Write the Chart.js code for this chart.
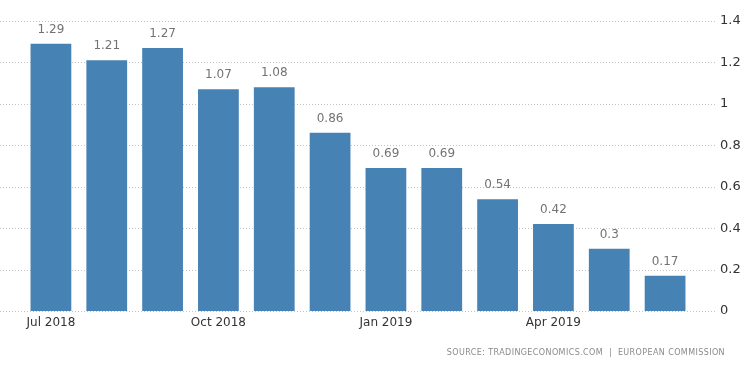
<!DOCTYPE html>
<html>
<head>
<meta charset="utf-8">
<script src="https://cdn.jsdelivr.net/npm/chart.js@4/dist/chart.umd.min.js"></script>
<style>
  html, body { margin: 0; padding: 0; background: #fff; }
  #wrap { width: 750px; height: 373px; }
</style>
</head>
<body>
<div id="wrap"><canvas id="c" width="750" height="373"></canvas></div>
<script>
const categories = ['Jul 2018','Aug 2018','Sep 2018','Oct 2018','Nov 2018','Dec 2018','Jan 2019','Feb 2019','Mar 2019','Apr 2019','May 2019','Jun 2019'];
const values = [1.29, 1.21, 1.27, 1.07, 1.08, 0.86, 0.69, 0.69, 0.54, 0.42, 0.3, 0.17];
const yTicks = [0, 0.2, 0.4, 0.6, 0.8, 1, 1.2, 1.4];
const sourceText = 'SOURCE: TRADINGECONOMICS.COM  |  EUROPEAN COMMISSION';

const FONT = '"DejaVu Sans", sans-serif';

const gridPlugin = {
  id: 'dottedGrid',
  beforeDatasetsDraw(chart) {
    const ctx = chart.ctx, y = chart.scales.y;
    ctx.save();
    ctx.strokeStyle = '#c4c4c4';
    ctx.lineWidth = 1;
    ctx.setLineDash([1, 2]);
    yTicks.forEach(v => {
      const py = Math.round(y.getPixelForValue(v)) + 0.5;
      ctx.beginPath();
      ctx.moveTo(0, py);
      ctx.lineTo(chart.chartArea.right + 24, py);
      ctx.stroke();
    });
    ctx.restore();
  }
};

const labelPlugin = {
  id: 'valueLabels',
  afterDatasetsDraw(chart) {
    const ctx = chart.ctx;
    const meta = chart.getDatasetMeta(0);
    ctx.save();
    ctx.font = '12px ' + FONT;
    ctx.fillStyle = '#737373';
    ctx.textAlign = 'center';
    ctx.textBaseline = 'middle';
    meta.data.forEach((bar, i) => {
      ctx.fillText(String(values[i]), bar.x, bar.y - 14);
    });
    ctx.restore();
  }
};

const sourcePlugin = {
  id: 'sourceText',
  afterDraw(chart) {
    const ctx = chart.ctx;
    ctx.save();
    ctx.font = '8px ' + FONT;
    ctx.fillStyle = '#8a8a8a';
    if ('letterSpacing' in ctx) ctx.letterSpacing = '0.4px';
    ctx.textAlign = 'right';
    ctx.textBaseline = 'middle';
    ctx.fillText(sourceText, 725, 353);
    ctx.restore();
  }
};

new Chart(document.getElementById('c'), {
  type: 'bar',
  data: {
    labels: categories,
    datasets: [{
      data: values,
      backgroundColor: '#4682b4',
      borderWidth: 0,
      barPercentage: 0.73,
      categoryPercentage: 1.0
    }]
  },
  options: {
    responsive: false,
    animation: false,
    devicePixelRatio: 1,
    layout: { padding: { left: 23, right: 0, top: 0, bottom: 0 } },
    plugins: { legend: { display: false }, tooltip: { enabled: false } },
    scales: {
      x: {
        grid: { display: false, drawTicks: false },
        border: { display: false },
        afterFit(scale) { scale.height = 62; },
        ticks: {
          autoSkip: false,
          maxRotation: 0,
          padding: 5,
          color: '#333',
          font: { family: FONT, size: 12 },
          callback(v, i) { return i % 3 === 0 ? categories[i] : ''; }
        }
      },
      y: {
        position: 'right',
        min: 0,
        max: 1.4,
        grid: { display: false, drawTicks: false },
        border: { display: false },
        afterFit(scale) { scale.width = 57; scale.paddingTop = 21; scale.paddingBottom = 8; },
        afterBuildTicks(scale) { scale.ticks = yTicks.map(v => ({ value: v })); },
        ticks: {
          padding: 27,
          color: '#333',
          font: { family: FONT, size: 13 },
          callback(v) { return String(v); }
        }
      }
    }
  },
  plugins: [gridPlugin, labelPlugin, sourcePlugin]
});
</script>
</body>
</html>
